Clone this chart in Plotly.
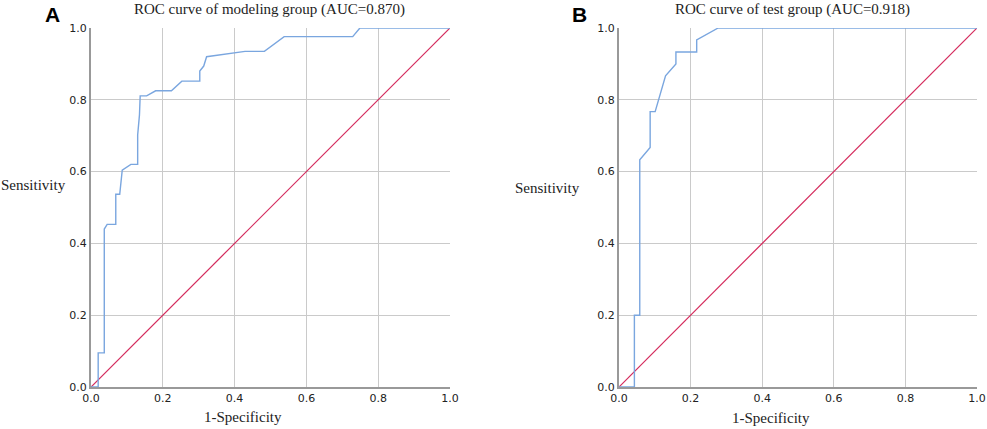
"""ROC curves of the modeling and test groups."""

import plotly.graph_objects as go

W, H = 987, 429

# modeling group (panel A)
model_fpr = [0, 0.020, 0.020, 0.037, 0.037, 0.045, 0.069, 0.069, 0.080, 0.087,
             0.111, 0.130, 0.130, 0.135, 0.137, 0.155, 0.180, 0.224, 0.253,
             0.303, 0.303, 0.314, 0.322, 0.396, 0.429, 0.483, 0.538, 0.729,
             0.749, 1.0]
model_tpr = [0, 0, 0.095, 0.095, 0.440, 0.453, 0.453, 0.537, 0.537, 0.604,
             0.620, 0.620, 0.702, 0.758, 0.811, 0.811, 0.825, 0.825, 0.852,
             0.852, 0.880, 0.894, 0.920, 0.931, 0.935, 0.935, 0.976, 0.976,
             1.0, 1.0]

# test group (panel B)
test_fpr = [0, 0.043, 0.043, 0.058, 0.058, 0.087, 0.087, 0.101, 0.130, 0.159,
            0.159, 0.217, 0.217, 0.277, 1.0]
test_tpr = [0, 0, 0.200, 0.200, 0.633, 0.667, 0.767, 0.767, 0.867, 0.900,
            0.933, 0.933, 0.967, 1.0, 1.0]

ref_line = [0, 1]
ticks = [0, 0.2, 0.4, 0.6, 0.8, 1.0]
tick_text = ["0.0", "0.2", "0.4", "0.6", "0.8", "1.0"]

BLUE = "#7aa6df"
RED = "#d42a5c"
SERIF = "Liberation Serif, Times New Roman, serif"
SANS = "DejaVu Sans, sans-serif"


def px_x(p):
    return p / W


def px_y(p):
    return 1 - p / H


fig = go.Figure()

panels = [
    ("", model_fpr, model_tpr, (91, 450)),
    ("2", test_fpr, test_tpr, (619, 977)),
]
for suffix, fpr, tpr, _ in panels:
    fig.add_trace(go.Scatter(x=ref_line, y=ref_line, mode="lines",
                             line=dict(color=RED, width=1.2),
                             xaxis="x" + suffix, yaxis="y" + suffix,
                             showlegend=False, hoverinfo="skip"))
    fig.add_trace(go.Scatter(x=fpr, y=tpr, mode="lines",
                             line=dict(color=BLUE, width=1.4),
                             xaxis="x" + suffix, yaxis="y" + suffix,
                             showlegend=False))

axis_style = dict(range=[0, 1], tickvals=ticks, ticktext=tick_text,
                  showgrid=True, gridcolor="#cacaca", gridwidth=1.4,
                  zeroline=False, showline=True, linecolor="#999999",
                  linewidth=2, ticks="", fixedrange=True, automargin=False,
                  tickfont=dict(family=SANS, size=11, color="#222"))

ydom = [px_y(387), px_y(28)]
layout = dict(width=W, height=H, margin=dict(l=0, r=0, t=0, b=0, pad=0,
                                             autoexpand=False),
              paper_bgcolor="white", plot_bgcolor="white", showlegend=False)
for suffix, _, _, (a, b) in panels:
    layout["xaxis" + suffix] = dict(axis_style, domain=[px_x(a), px_x(b)],
                                    anchor="y" + suffix)
    layout["yaxis" + suffix] = dict(axis_style, domain=ydom,
                                    anchor="x" + suffix)
fig.update_layout(**layout)

texts = [
    ("A", 52, 14, dict(family="Liberation Sans, Arial, sans-serif", size=21, color="black"), True),
    ("B", 579, 14, dict(family="Liberation Sans, Arial, sans-serif", size=21, color="black"), True),
    ("ROC curve of modeling group (AUC=0.870)", 269, 10, dict(family=SERIF, size=15, color="#222"), False),
    ("ROC curve of test group (AUC=0.918)", 792, 10, dict(family=SERIF, size=15, color="#222"), False),
    ("Sensitivity", 33, 185, dict(family=SERIF, size=15, color="#222"), False),
    ("Sensitivity", 547, 188, dict(family=SERIF, size=15, color="#222"), False),
    ("1-Specificity", 243, 417, dict(family=SERIF, size=15, color="#222"), False),
    ("1-Specificity", 771, 418, dict(family=SERIF, size=15, color="#222"), False),
]
for text, x, y, font, bold in texts:
    fig.add_annotation(text=f"<b>{text}</b>" if bold else text,
                       x=px_x(x), y=px_y(y), xref="paper", yref="paper",
                       xanchor="center", yanchor="middle", showarrow=False,
                       font=font)

# drop the default 8px body margin so the figure fills the window
fig.write_html("out.html", config={"displayModeBar": False},
               post_script="document.body.style.margin = '0';")
